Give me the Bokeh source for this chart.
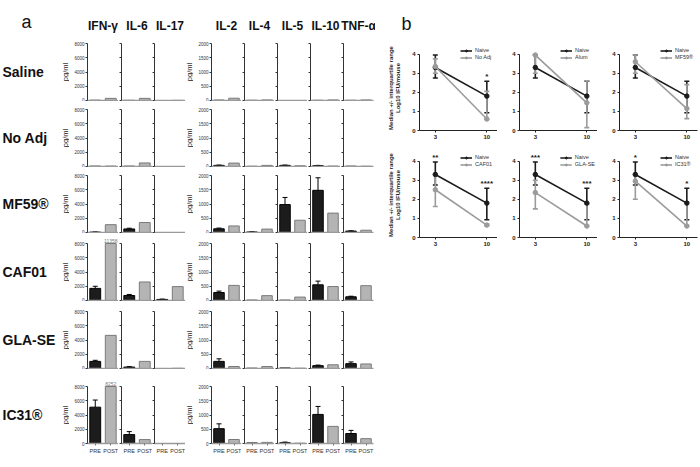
import math
from bokeh.plotting import figure
from bokeh.layouts import row, column
from bokeh.models import (Range1d, FixedTicker, Whisker, TeeHead,
                          ColumnDataSource, Label, Legend, LegendItem)
from bokeh.embed import file_html
from bokeh.resources import INLINE
from bokeh.core.properties import value

FONT = "Liberation Sans"

# ---------------- panel a data ----------------
adjuvants = ["Saline", "No Adj", "MF59®", "CAF01", "GLA-SE", "IC31®"]
cytokines = ["IFN-γ", "IL-6", "IL-17", "IL-2", "IL-4", "IL-5", "IL-10", "TNF-α"]
cytokine_axis_max = [8000, 8000, 8000, 2000, 2000, 2000, 2000, 2000]
ticks_8000 = [0, 2000, 4000, 6000, 8000]
ticks_2000 = [0, 500, 1000, 1500, 2000]
phases = ["PRE", "POST"]
unit_label = "pg/ml"

saline_pre = [30, 20, 0, 10, 5, 0, 5, 5]
saline_post = [300, 300, 20, 80, 20, 0, 20, 20]
saline_err = [0, 0, 0, 0, 0, 0, 0, 0]

noadj_pre = [40, 40, 0, 40, 5, 40, 30, 10]
noadj_post = [60, 500, 0, 120, 40, 25, 15, 10]
noadj_err = [0, 0, 0, 10, 0, 10, 10, 0]

mf59_pre = [60, 500, 0, 130, 20, 980, 1480, 50]
mf59_post = [1100, 1400, 0, 230, 120, 430, 680, 80]
mf59_err = [20, 100, 0, 25, 5, 250, 440, 10]

caf01_pre = [1700, 700, 150, 280, 10, 10, 550, 130]
caf01_post = [11358, 2600, 1950, 530, 170, 120, 490, 520]
caf01_err = [300, 150, 50, 50, 0, 0, 130, 20]

glase_pre = [1000, 200, 0, 250, 10, 20, 100, 170]
glase_post = [4650, 1000, 30, 70, 70, 10, 130, 160]
glase_err = [150, 60, 0, 90, 0, 0, 20, 60]

ic31_pre = [5100, 1250, 0, 520, 20, 30, 1020, 350]
ic31_post = [8252, 550, 0, 140, 40, 10, 600, 170]
ic31_err = [1000, 420, 0, 170, 0, 20, 280, 110]

pre_by_adj = [saline_pre, noadj_pre, mf59_pre, caf01_pre, glase_pre, ic31_pre]
post_by_adj = [saline_post, noadj_post, mf59_post, caf01_post, glase_post, ic31_post]
err_by_adj = [saline_err, noadj_err, mf59_err, caf01_err, glase_err, ic31_err]

# ---------------- panel b data ----------------
days = [3, 10]
naive_median = [3.3, 1.8]
naive_q1 = [2.75, 0.93]
naive_q3 = [3.95, 2.58]

groups_b = ["No Adj", "Alum", "MF59®", "CAF01", "GLA-SE", "IC31®"]
b_noadj_median, b_noadj_q1, b_noadj_q3 = [3.35, 0.6], [3.0, 0.58], [3.75, 2.05]
b_alum_median, b_alum_q1, b_alum_q3 = [3.95, 1.45], [3.0, 0.15], [3.95, 2.6]
b_mf59_median, b_mf59_q1, b_mf59_q3 = [3.6, 1.15], [3.0, 0.62], [3.95, 2.4]
b_caf01_median, b_caf01_q1, b_caf01_q3 = [2.5, 0.65], [1.62, 0.6], [3.3, 0.7]
b_glase_median, b_glase_q1, b_glase_q3 = [2.35, 0.6], [1.5, 0.6], [3.0, 1.75]
b_ic31_median, b_ic31_q1, b_ic31_q3 = [2.95, 0.6], [2.0, 0.6], [3.3, 1.85]
b_stars = [["", "*"], ["", ""], ["", ""], ["**", "****"], ["***", "***"], ["*", "*"]]
b_median = [b_noadj_median, b_alum_median, b_mf59_median, b_caf01_median, b_glase_median, b_ic31_median]
b_q1 = [b_noadj_q1, b_alum_q1, b_mf59_q1, b_caf01_q1, b_glase_q1, b_ic31_q1]
b_q3 = [b_noadj_q3, b_alum_q3, b_mf59_q3, b_caf01_q3, b_glase_q3, b_ic31_q3]
y_ticks_b = [0, 1, 2, 3, 4]
y_label_b = "Median +/- interquartile range\nLog10 IFU/mouse"

# ---------------- styling / layout constants ----------------
PRE_FILL, PRE_LINE = "#1c1c1c", "#000000"
POST_FILL, POST_LINE = "#b4b4b4", "#7a7a7a"
NAIVE_C, ADJ_C = "#1b1b1b", "#9b9b9b"

FH, AH = 65, 57
row_top = [35, 0, 0, 2, 2, 9]
row_bottom = [1, 1, 1, 1, 1, 16]
label_w = 69
unit_x_in_label = 65
unit_w = 8
frame_w = [31, 31, 31, 30, 30, 30, 30, 30]
left_w = [18, 3, 2, 18, 3, 3, 3, 3]
right_w = [0, 0, 0, 0, 0, 0, 0, 2]
labelled_cols = (0, 3)

# category slot centres (one slot per phase)
phase_pos = [i + 0.5 for i in range(len(phases))]


def base_fig(**kw):
    p = figure(toolbar_location=None, output_backend="svg", **kw)
    p.outline_line_color = None
    p.background_fill_color = "white"
    p.border_fill_color = "white"
    return p


def text_panel(r, width):
    T, B = row_top[r], row_bottom[r]
    return base_fig(width=width, height=T + FH + B, x_range=Range1d(0, width),
                    y_range=Range1d(FH, 0), x_axis_type=None, y_axis_type=None,
                    min_border_left=0, min_border_right=0, min_border_top=T,
                    min_border_bottom=B, title_location=None)


def unit_label_obj(x):
    return Label(x=x, y=(FH - AH) + AH / 2, text=unit_label, angle=math.pi / 2,
                 text_font=FONT, text_font_size="7.5px", text_align="center",
                 text_baseline="middle", text_color="#222222")


def label_panel(r):
    p = text_panel(r, label_w)
    if r == 0:
        p.title_location = "above"
        p.title.text = "a"
        p.title.text_font = FONT
        p.title.text_font_size = "18px"
        p.title.text_font_style = "normal"
        p.title.align = "left"
        p.title.offset = 21
        p.title.standoff = 8
        p.title.text_color = "#111111"
    p.add_layout(Label(x=2, y=(FH - AH) + AH / 2, text=adjuvants[r],
                       text_font=FONT, text_font_size="14px", text_font_style="bold",
                       text_baseline="middle", text_align="left", text_color="#111111"))
    p.add_layout(unit_label_obj(unit_x_in_label))
    return p


def unit_panel(r):
    p = text_panel(r, unit_w)
    p.add_layout(unit_label_obj(unit_w / 2))
    return p


def bar_panel(r, c):
    ymax = cytokine_axis_max[c]
    ticks = ticks_8000 if ymax == 8000 else ticks_2000
    pre, post, err = pre_by_adj[r][c], post_by_adj[r][c], err_by_adj[r][c]
    L, R, T, B = left_w[c], right_w[c], row_top[r], row_bottom[r]
    last = r == 5
    extra = dict(title=cytokines[c]) if r == 0 else dict(title_location=None)
    p = base_fig(width=L + frame_w[c] + R, height=T + FH + B,
                 x_range=Range1d(0, len(phases)),
                 y_range=Range1d(0, ymax * FH / AH),
                 min_border_left=L, min_border_right=R, min_border_top=T, min_border_bottom=B,
                 **extra)
    if r == 0:
        p.title.text_font = FONT
        p.title.text_font_size = "12px"
        p.title.text_font_style = "bold"
        p.title.align = "center"
        p.title.standoff = 5
        p.title.text_color = "#111111"
    p.xgrid.visible = False
    p.ygrid.visible = False

    vals = [pre, post]
    src = ColumnDataSource(dict(x=phase_pos, top=[min(v, ymax) for v in vals],
                                fill=[PRE_FILL, POST_FILL], line=[PRE_LINE, POST_LINE]))
    p.vbar(x="x", top="top", bottom=0, width=0.7, source=src,
           fill_color="fill", line_color="line", line_width=1)
    if err > 0:
        wsrc = ColumnDataSource(dict(base=[phase_pos[0]], lower=[pre], upper=[pre + err]))
        p.add_layout(Whisker(source=wsrc, base="base", lower="lower", upper="upper",
                             dimension="height", line_color=PRE_LINE, line_width=1,
                             upper_head=TeeHead(size=5, line_color=PRE_LINE, line_width=1),
                             lower_head=None))
    over = [(xp, v) for xp, v in zip(phase_pos, vals) if v > ymax]
    if over:
        p.text(x=[o[0] for o in over], y=[ymax] * len(over), text=[str(o[1]) for o in over],
               text_font=value(FONT), text_font_size="5px", text_align="center",
               text_baseline="bottom", y_offset=-1, text_color="#777777")

    # x axis
    xa = p.xaxis[0]
    xa.major_tick_in = 0
    xa.minor_tick_line_color = None
    xa.minor_tick_out = 0
    xa.minor_tick_in = 0
    if last:
        xa.ticker = FixedTicker(ticks=phase_pos)
        xa.major_label_overrides = {xp: ph for xp, ph in zip(phase_pos, phases)}
        xa.major_tick_out = 2
        xa.major_tick_line_color = "#777777"
        xa.major_label_text_font = FONT
        xa.major_label_text_font_size = "5.5px"
        xa.major_label_text_color = "#333333"
        xa.major_label_standoff = 2
    else:
        xa.ticker = FixedTicker(ticks=[])
        xa.major_tick_out = 0
        xa.major_label_standoff = 0
    xa.axis_line_color = "#9a9a9a"
    xa.axis_line_width = 1.5

    # y axis
    ya = p.yaxis[0]
    ya.bounds = (0, ymax)
    ya.axis_line_color = "#333333"
    if c in labelled_cols:
        ya.ticker = FixedTicker(ticks=ticks)
        ya.major_tick_line_color = "#333333"
        ya.major_tick_out = 2
        ya.major_tick_in = 0
        ya.minor_tick_line_color = None
        ya.major_label_text_font = FONT
        ya.major_label_text_font_size = "4.5px"
        ya.major_label_text_color = "#333333"
        ya.major_label_standoff = 1
    else:
        ya.ticker = FixedTicker(ticks=[], minor_ticks=ticks)
        ya.minor_tick_line_color = "#333333"
        ya.minor_tick_out = 2
        ya.minor_tick_in = 0
        ya.major_tick_out = 0
        ya.major_tick_in = 0
        ya.major_label_standoff = 0
    return p


panel_a_rows = []
for r in range(6):
    cells = [label_panel(r)]
    for c in range(8):
        if c == 3:
            cells.append(unit_panel(r))
        cells.append(bar_panel(r, c))
    panel_a_rows.append(row(*cells))
panel_a = column(*panel_a_rows)

# ---------------- panel b ----------------
B_FW, B_FH = 78, 85
b_left = [44, 22, 22]
b_right = [0, 0, 2]
b_top = [5, 8]
b_bottom = 14


def line_panel(i):
    ri, ci = divmod(i, 3)
    L, R, T = b_left[ci], b_right[ci], b_top[ri]
    p = base_fig(width=L + B_FW + R, height=T + B_FH + b_bottom,
                 x_range=Range1d(0.85, 11.45), y_range=Range1d(0, 4.45),
                 min_border_left=L, min_border_right=R, min_border_top=T,
                 min_border_bottom=b_bottom, title_location=None)
    p.xgrid.visible = False
    p.ygrid.visible = False
    items = []
    series = [("Naive", naive_median, naive_q1, naive_q3, NAIVE_C),
              (groups_b[i], b_median[i], b_q1[i], b_q3[i], ADJ_C)]
    for lab, med, q1, q3, col in series:
        src = ColumnDataSource(dict(x=days, y=med, lo=q1, hi=q3))
        p.add_layout(Whisker(source=src, base="x", lower="lo", upper="hi", dimension="height",
                             line_color=col, line_width=1.6,
                             upper_head=TeeHead(size=5, line_color=col, line_width=1.6),
                             lower_head=TeeHead(size=5, line_color=col, line_width=1.6)))
        ln = p.line("x", "y", source=src, line_color=col, line_width=1.6)
        sc = p.scatter("x", "y", source=src, size=4.5, fill_color=col, line_color=col)
        items.append(LegendItem(label=lab, renderers=[ln, sc]))
    sx, sy, st = [], [], []
    for d, a, b, s in zip(days, naive_q3, b_q3[i], b_stars[i]):
        if s:
            sx.append(d)
            sy.append(max(a, b))
            st.append(s)
    if st:
        p.text(x=sx, y=sy, text=st, text_font=value(FONT), text_font_size="8px",
               text_font_style="bold", text_align="center", text_baseline="bottom",
               text_color="#222222")
    leg = Legend(items=items, location="top_right", label_text_font=FONT,
                 label_text_font_size="5.5px", label_text_color="#333333",
                 glyph_width=12, glyph_height=5, label_height=5, label_standoff=3,
                 spacing=1, padding=0, margin=2, background_fill_alpha=0,
                 border_line_color=None)
    p.add_layout(leg)

    xa, ya = p.xaxis[0], p.yaxis[0]
    for ax in (xa, ya):
        ax.axis_line_color = "#222222"
        ax.major_tick_line_color = "#222222"
        ax.minor_tick_line_color = None
        ax.major_tick_out = 2
        ax.major_tick_in = 0
        ax.major_label_text_font = FONT
        ax.major_label_text_font_size = "6px"
        ax.major_label_text_font_style = "bold"
        ax.major_label_text_color = "#222222"
        ax.major_label_standoff = 2
    xa.ticker = FixedTicker(ticks=days)
    ya.ticker = FixedTicker(ticks=y_ticks_b)
    ya.bounds = (0, 4)
    if ci == 0:
        ya.axis_label = y_label_b
        ya.axis_label_text_font = FONT
        ya.axis_label_text_font_size = "6px"
        ya.axis_label_text_font_style = "bold"
        ya.axis_label_text_color = "#222222"
        ya.axis_label_standoff = 8
    return p


b_width = sum(b_left) + 3 * B_FW + sum(b_right)
b_header_h = 40
b_header = base_fig(width=b_width, height=b_header_h, x_range=Range1d(0, b_width),
                    y_range=Range1d(b_header_h, 0), x_axis_type=None, y_axis_type=None,
                    min_border=0, title_location=None)
b_header.add_layout(Label(x=26, y=23, text="b", text_font=FONT, text_font_size="18px",
                          text_baseline="alphabetic", text_color="#111111"))

panel_b = column(b_header,
                 row(*[line_panel(i) for i in range(3)]),
                 row(*[line_panel(i) for i in range(3, 6)]))

layout = row(panel_a, panel_b)

open("out.html", "w").write(file_html(layout, INLINE))
